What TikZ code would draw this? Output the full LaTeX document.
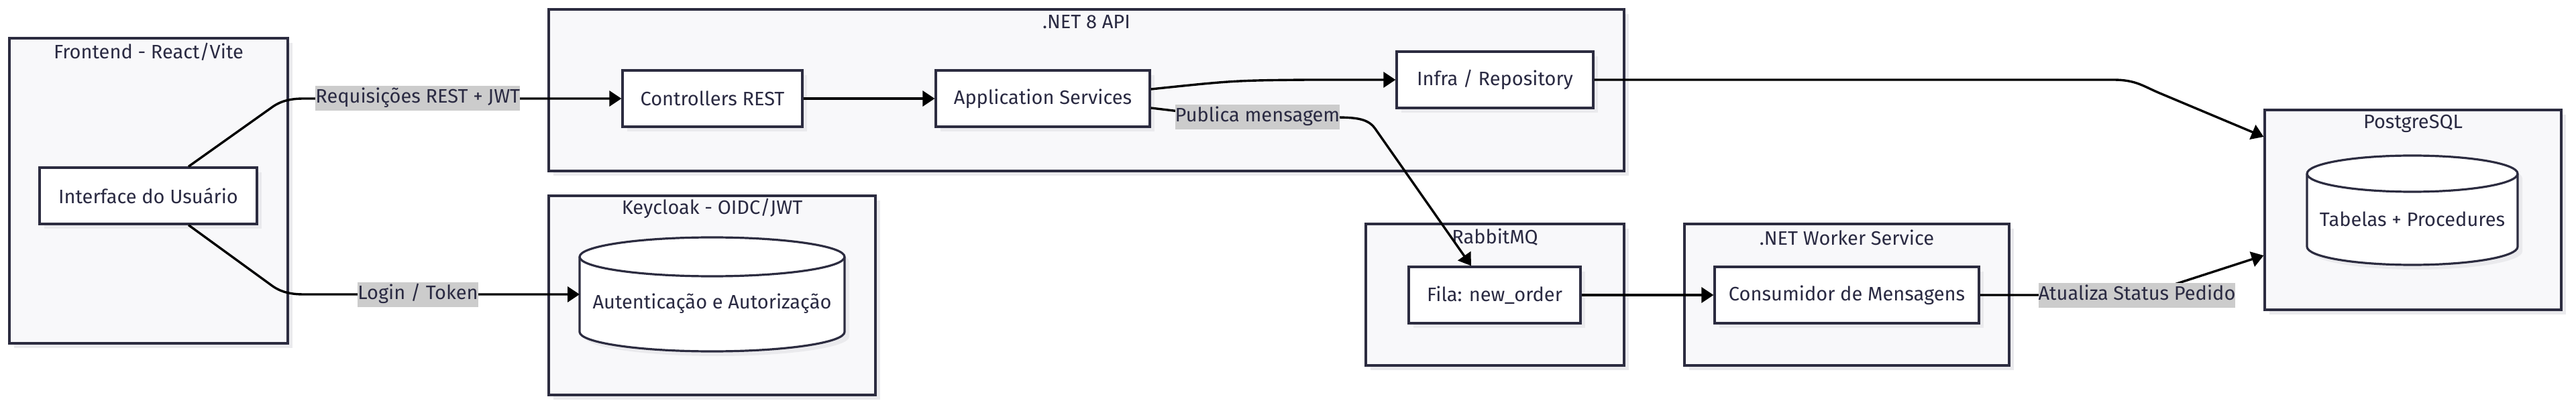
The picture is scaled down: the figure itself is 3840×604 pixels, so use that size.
\documentclass[tikz,border=0pt]{standalone}
\usepackage{fontspec}
\setmainfont{Fira Sans}
\usetikzlibrary{arrows.meta,shadows,calc}
\definecolor{ink}{RGB}{44,44,64}
\definecolor{txt}{RGB}{42,42,66}
\definecolor{grpfill}{RGB}{248,248,250}
\definecolor{shade}{RGB}{234,234,237}
\definecolor{lblfill}{RGB}{204,204,204}
\begin{document}
\begin{tikzpicture}[x=0.5pt,y=-0.5pt,
  font=\fontsize{14.5}{17}\selectfont, text=txt,
  grp/.style={draw=ink, line width=1.6pt, fill=grpfill,
    general shadow={fill=shade, shadow xshift=3.5pt, shadow yshift=-3.5pt}},
  box/.style={draw=ink, line width=1.6pt, fill=white, minimum height=42pt,
    general shadow={fill=shade, shadow xshift=3.5pt, shadow yshift=-3.5pt}},
  cylnode/.style={inner sep=0pt, outer sep=0pt},
  cyl/.style={draw=ink, line width=1.6pt, fill=white,
    general shadow={fill=shade, shadow xshift=3.5pt, shadow yshift=-3.5pt}},
  lbl/.style={fill=lblfill, inner xsep=0pt, inner ysep=2.25pt,
    text height=10.5pt, text depth=3.5pt},
  edge/.style={draw=black, line width=1.7pt, >={Triangle[length=9pt,width=11.5pt]}, ->}]
\useasboundingbox (0,0) rectangle (3840,604);

% groups
\node[grp, minimum width=207.5pt, minimum height=227.5pt] (fe) at (221.5,284.5) {};
\node[grp, minimum width=801.5pt, minimum height=120.5pt] (api) at (1619.5,134.5) {};
\node[grp, minimum width=243.5pt, minimum height=148.5pt] (kc) at (1061.5,440.5) {};
\node[grp, minimum width=192.5pt, minimum height=105.5pt] (mq) at (2228.5,439.5) {};
\node[grp, minimum width=242pt, minimum height=105.5pt] (wk) at (2753,439.5) {};
\node[grp, minimum width=221pt, minimum height=149pt] (pg) at (3597,313) {};

\node (feT) at (221.5,77) {Frontend - React/Vite};
\node (apiT) at (1619.5,33) {.NET 8 API};
\node (kcT) at (1061.5,311) {Keycloak - OIDC/JWT};
\node (mqT) at (2228.5,354) {RabbitMQ};
\node (wkT) at (2753,354) {.NET Worker Service};
\node (pgT) at (3597,184) {PostgreSQL};

% nodes
\node[box, minimum width=162pt] (ui) at (221,292) {Interface do Usuário};
\node[box, minimum width=134pt] (ctrl) at (1062,147) {Controllers REST};
\node[box, minimum width=159.5pt] (app) at (1554.5,147) {Application Services};
\node[box, minimum width=146.5pt] (infra) at (2228.5,119) {Infra / Repository};
\node[box, minimum width=128pt] (fila) at (2228,440) {Fila: new\_order};
\node[box, minimum width=197pt] (cons) at (2753,440) {Consumidor de Mensagens};

% cylinders
\node[cylnode, minimum width=197.5pt, minimum height=85pt] (auth) at (1061.5,439) {};
\path[cyl] ($(auth.north west)+(0,29)$) -- ($(auth.south west)+(0,-29)$)
  arc[start angle=180, end angle=360, x radius=98.75pt, y radius=14.5pt]
  -- ($(auth.north east)+(0,29)$)
  arc[start angle=0, end angle=180, x radius=98.75pt, y radius=14.5pt] -- cycle;
\draw[draw=ink, line width=1.6pt] ($(auth.north west)+(0,29)$)
  arc[start angle=180, end angle=360, x radius=98.75pt, y radius=14.5pt];
\node (authT) at (1061.5,453) {Autenticação e Autorização};

\node[cylnode, minimum width=157pt, minimum height=81.5pt] (tab) at (3596,313.5) {};
\path[cyl] ($(tab.north west)+(0,27)$) -- ($(tab.south west)+(0,-27)$)
  arc[start angle=180, end angle=360, x radius=78.5pt, y radius=13.5pt]
  -- ($(tab.north east)+(0,27)$)
  arc[start angle=0, end angle=180, x radius=78.5pt, y radius=13.5pt] -- cycle;
\draw[draw=ink, line width=1.6pt] ($(tab.north west)+(0,27)$)
  arc[start angle=180, end angle=360, x radius=78.5pt, y radius=13.5pt];
\node (tabT) at (3596,327) {Tabelas + Procedures};

% edges
\path[edge] ([xshift=30pt]ui.north) -- (404,161) .. controls (412,155) and (425,147) .. (452,147)
  -- node[lbl,pos=0.36] {Requisições REST + JWT} (ctrl.west);
\path[edge] ([xshift=30pt]ui.south) -- (404,425) .. controls (412,431) and (425,439) .. (452,439)
  -- node[lbl,pos=0.415] {Login / Token} (auth.west);
\path[edge] (ctrl) -- (app);
\path[edge] ([yshift=7pt]app.east) .. controls (1840,120) .. (1950,119) -- (infra.west);
\path[edge] ([yshift=-7pt]app.east) -- (1766,167) .. controls (1778,175) .. (1800,175)
  -- node[lbl,pos=0.39] {Publica mensagem} (1991,175)
  .. controls (2025,175) and (2040,178) .. (2050,192) -- ([xshift=-17.5pt]fila.north);
\path[edge] (infra.east) -- (3150,119) .. controls (3185,119) and (3195,129) .. (3222,140)
  -- ([yshift=54.5pt]pg.west);
\path[edge] (fila) -- (cons);
\path[edge] (cons.east) -- (3185.5,440) node[lbl] {Atualiza Status Pedido}
  .. controls (3200,440) and (3208,435) .. (3220,431) -- ([yshift=-34pt]pg.west);
\end{tikzpicture}
\end{document}
